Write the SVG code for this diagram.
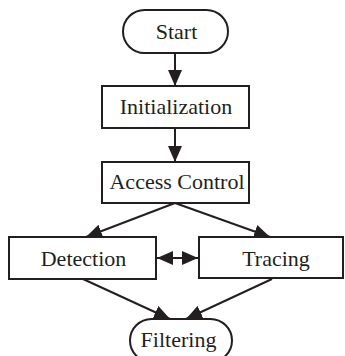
<svg xmlns="http://www.w3.org/2000/svg" width="345" height="356" viewBox="0 0 345 356">
<style>
.box{fill:#fff;stroke:#231f20;stroke-width:2}
.lbl{font-family:"Liberation Serif","Times New Roman",serif;font-size:22px;fill:#231f20;text-anchor:middle}
.edge{stroke:#231f20;stroke-width:2;fill:none}
</style>
<defs>
<marker id="ah" viewBox="0 0 16 14" refX="16" refY="7" markerWidth="16" markerHeight="14" markerUnits="userSpaceOnUse" orient="auto-start-reverse">
<path d="M0,0 L16,7 L0,14 z" fill="#231f20"/>
</marker>
</defs>
<rect width="345" height="356" fill="#fff"/>
<g id="connectors">
<line class="edge" x1="175" y1="53" x2="175" y2="86" marker-end="url(#ah)"/>
<line class="edge" x1="175" y1="128" x2="175" y2="162" marker-end="url(#ah)"/>
<line class="edge" x1="175" y1="203" x2="86" y2="237" marker-end="url(#ah)"/>
<line class="edge" x1="175" y1="203" x2="270" y2="237" marker-end="url(#ah)"/>
<line class="edge" x1="157" y1="258" x2="198" y2="258" marker-start="url(#ah)" marker-end="url(#ah)"/>
<line class="edge" x1="83" y1="279" x2="170" y2="319" marker-end="url(#ah)"/>
<line class="edge" x1="272" y1="279" x2="186" y2="319" marker-end="url(#ah)"/>
</g>
<g id="start">
<rect class="box" x="123" y="10" width="105" height="43" rx="21.5"/>
<text class="lbl" x="176.5" y="39">Start</text>
</g>
<g id="initialization">
<rect class="box" x="102" y="86" width="147" height="42"/>
<text class="lbl" x="176" y="114">Initialization</text>
</g>
<g id="access-control">
<rect class="box" x="102" y="162" width="147" height="41"/>
<text class="lbl" x="177" y="189">Access Control</text>
</g>
<g id="detection">
<rect class="box" x="9" y="237" width="147" height="42"/>
<text class="lbl" x="83.5" y="266">Detection</text>
</g>
<g id="tracing">
<rect class="box" x="199" y="237" width="144" height="41"/>
<text class="lbl" x="276" y="266">Tracing</text>
</g>
<g id="filtering">
<rect class="box" x="130" y="319" width="102" height="43" rx="21.5"/>
<text class="lbl" x="178.5" y="347">Filtering</text>
</g>
</svg>
